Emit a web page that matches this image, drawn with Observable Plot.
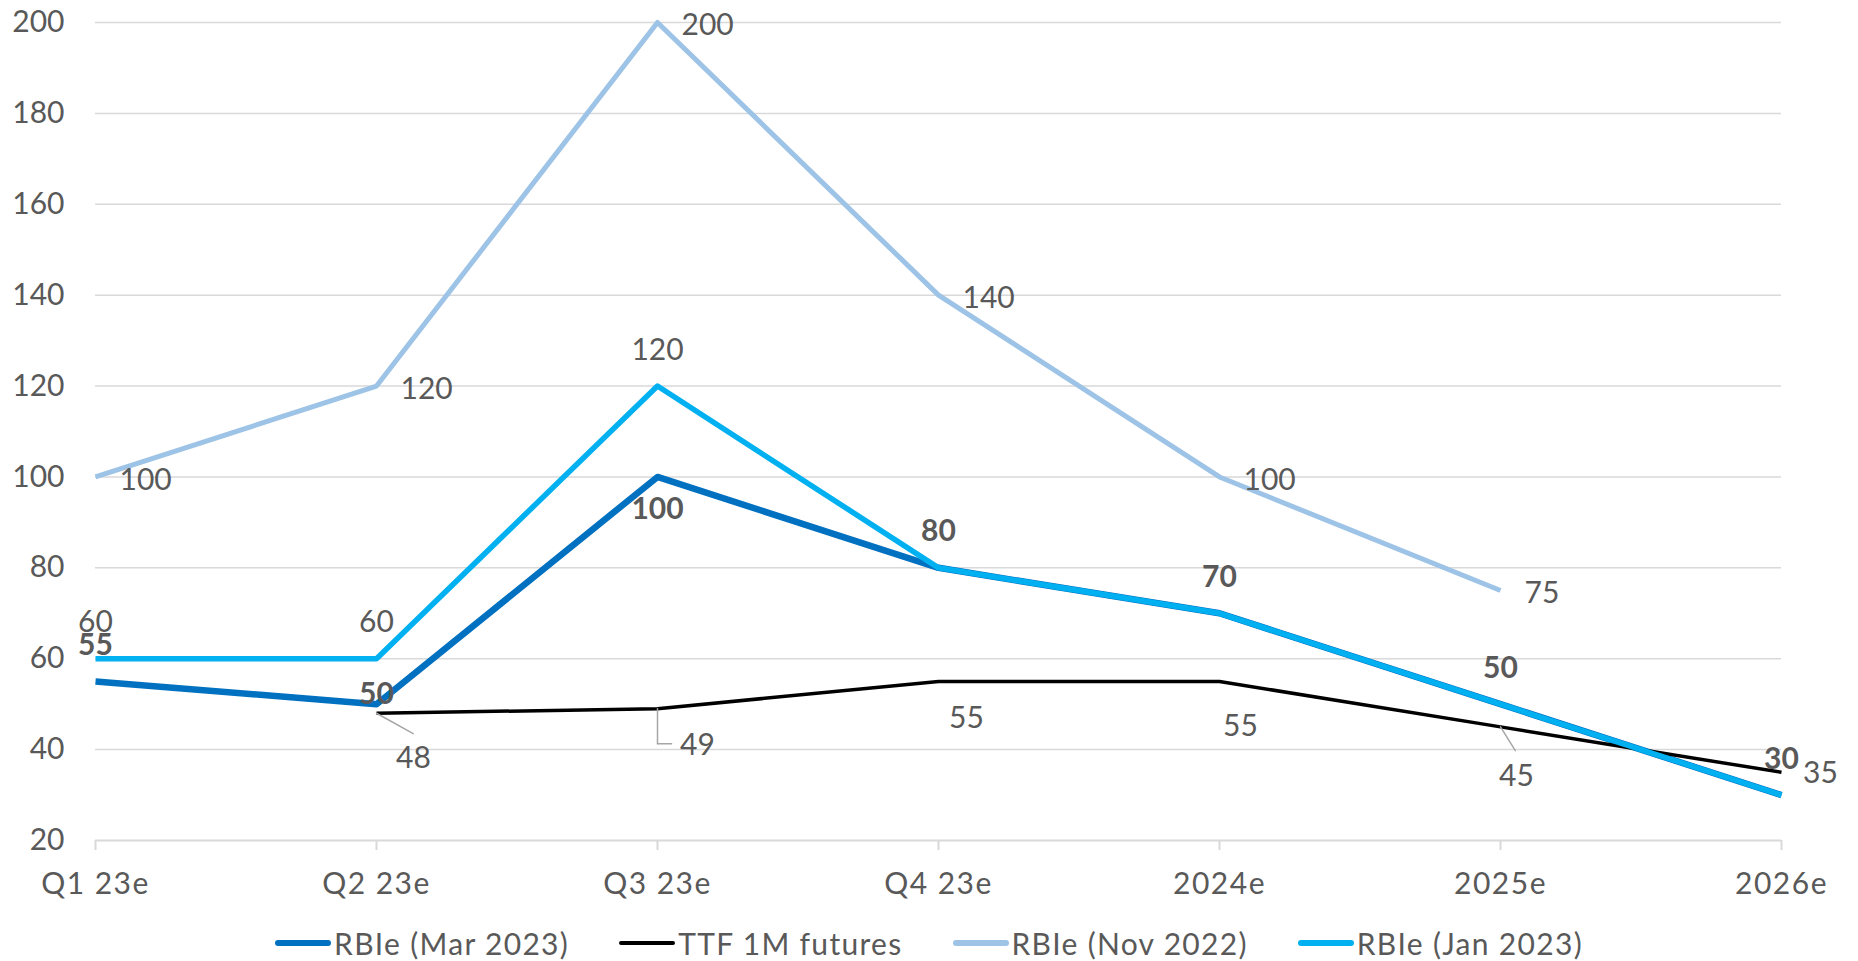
<!DOCTYPE html>
<html>
<head>
<meta charset="utf-8">
<script src="https://cdn.jsdelivr.net/npm/d3@7"></script>
<script src="https://cdn.jsdelivr.net/npm/@observablehq/plot@0.6"></script>
<style>
  html, body { margin: 0; padding: 0; background: #ffffff; }
  #chart svg { display: block; }
  #chart g[aria-label="x-axis tick label"] text { letter-spacing: 1.5px; }
  #legend {
    display: flex; justify-content: center; align-items: center;
    height: 40px; margin-top: 18px;
    font-family: Lato, "Open Sans", sans-serif; font-size: 30px; color: #595959;
    letter-spacing: 1.3px;
  }
  .item { display: flex; align-items: center; margin: 0 25px; }
  .swatch { display: inline-block; width: 56px; border-radius: 3px; margin-right: 3px; }
</style>
</head>
<body>
<div id="chart"></div>
<div id="legend"></div>
<script>
// ---- data ----
const categories = ["Q1 23e", "Q2 23e", "Q3 23e", "Q4 23e", "2024e", "2025e", "2026e"];
const rbieMar2023 = [55, 50, 100, 80, 70, 50, 30];
const ttf1mFutures = [null, 48, 49, 55, 55, 45, 35];
const rbieNov2022 = [100, 120, 200, 140, 100, 75, null];
const rbieJan2023 = [60, 60, 120, 80, 70, 50, 30];
const yTicks = [20, 40, 60, 80, 100, 120, 140, 160, 180, 200];
const seriesNames = ["RBIe (Mar 2023)", "TTF 1M futures", "RBIe (Nov 2022)", "RBIe (Jan 2023)"];
const janLabelled = [true, true, true, false, false, false, false];

// ---- label placement (styling, kept apart from the values) ----
const marLabelDy = [-36, -10, 32, -36, -36, -36, -36];
const ttfLabelDx = [0, 37, 40, 28, 21, 16, 39];
const ttfLabelDy = [0, 45, 37, 37, 45, 50, 1];

const colors = {
  "RBIe (Mar 2023)": "#0070C0",
  "TTF 1M futures": "#000000",
  "RBIe (Nov 2022)": "#9DC3E6",
  "RBIe (Jan 2023)": "#00B0F0"
};
const widths = {
  "RBIe (Mar 2023)": 6.5,
  "TTF 1M futures": 3.5,
  "RBIe (Nov 2022)": 5,
  "RBIe (Jan 2023)": 5.5
};

const toRows = (vals, name) => categories.map((c, i) => ({cat: c, value: vals[i], series: name, i}));
const mar = toRows(rbieMar2023, seriesNames[0]);
const ttf = toRows(ttf1mFutures, seriesNames[1]);
const nov = toRows(rbieNov2022, seriesNames[2]);
const jan = toRows(rbieJan2023, seriesNames[3]);

const textFill = "#595959";
const gridColor = "#D9D9D9";
const leaderColor = "#A6A6A6";

const lineShape = { draw(context, l) { context.moveTo(0, 0); context.lineTo(0, -l); } };

const lineMark = (rows) => Plot.line(rows, {
  x: "cat", y: "value",
  stroke: colors[rows[0].series], strokeWidth: widths[rows[0].series],
  strokeLinejoin: "round", strokeLinecap: "butt"
});

const marks = [
  Plot.gridY(yTicks.filter(d => d > 20), {stroke: gridColor, strokeOpacity: 1, strokeWidth: 1.5}),
  Plot.ruleY([20], {stroke: gridColor, strokeWidth: 2}),
  Plot.axisY(yTicks, {tickSize: 0, tickPadding: 31, fill: textFill, fontSize: 30}),
  Plot.axisX({tickSize: 10, tickPadding: 22, stroke: gridColor, strokeWidth: 2, fill: textFill, fontSize: 30}),
  lineMark(mar),
  lineMark(ttf),
  lineMark(nov),
  lineMark(jan),
  // leader lines for TTF labels
  Plot.vector(ttf.filter(d => d.value === 48), {x: "cat", y: "value", length: 42, rotate: 119, anchor: "start", shape: lineShape, stroke: leaderColor, strokeWidth: 1.5}),
  Plot.vector(ttf.filter(d => d.value === 49), {x: "cat", y: "value", length: 35, rotate: 180, anchor: "start", shape: lineShape, stroke: leaderColor, strokeWidth: 1.5}),
  Plot.vector(ttf.filter(d => d.value === 49), {x: "cat", y: "value", length: 14, rotate: 90, anchor: "start", dy: 35, shape: lineShape, stroke: leaderColor, strokeWidth: 1.5}),
  Plot.vector(ttf.filter(d => d.value === 45), {x: "cat", y: "value", length: 28, rotate: 148, anchor: "start", shape: lineShape, stroke: leaderColor, strokeWidth: 1.5}),
  // Nov 2022 labels
  Plot.text(nov.filter(d => d.value != null), {x: "cat", y: "value", text: d => String(d.value), textAnchor: "start", dx: 24, dy: 3, fill: textFill, fontSize: 30}),
  // Jan 2023 labels
  Plot.text(jan.filter(d => janLabelled[d.i]), {x: "cat", y: "value", text: d => String(d.value), dy: -36, fill: textFill, fontSize: 30}),
  // TTF labels
  ...ttf.filter(d => d.value != null).map(d => Plot.text([d], {x: "cat", y: "value", text: d => String(d.value), dx: ttfLabelDx[d.i], dy: ttfLabelDy[d.i], fill: textFill, fontSize: 30})),
  // Mar 2023 labels (bold)
  ...mar.map(d => Plot.text([d], {x: "cat", y: "value", text: d => String(d.value), dy: marLabelDy[d.i], fill: textFill, fontSize: 30, fontWeight: "bold"}))
];

const plot = Plot.plot({
  width: 1858,
  height: 905,
  marginTop: 22,
  marginBottom: 65,
  marginLeft: 95,
  marginRight: 77,
  style: {fontFamily: "Lato, 'Open Sans', sans-serif", fontSize: "30px", color: textFill, background: "#ffffff"},
  x: {type: "point", domain: categories, padding: 0, label: null},
  y: {domain: [20, 200], label: null},
  marks
});
document.getElementById("chart").appendChild(plot);

// legend
const legend = document.getElementById("legend");
seriesNames.forEach(name => {
  const item = document.createElement("div");
  item.className = "item";
  const sw = document.createElement("span");
  sw.className = "swatch";
  sw.style.background = colors[name];
  sw.style.height = name === "TTF 1M futures" ? "4px" : "6px";
  const label = document.createElement("span");
  label.textContent = name;
  item.appendChild(sw);
  item.appendChild(label);
  legend.appendChild(item);
});
</script>
</body>
</html>
